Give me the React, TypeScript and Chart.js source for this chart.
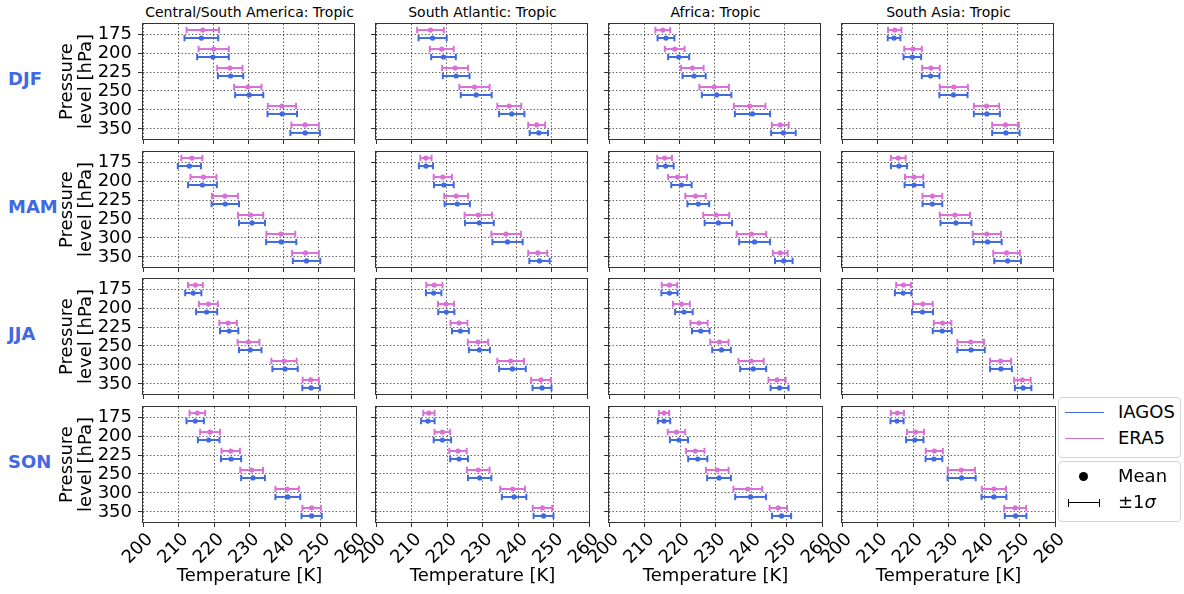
import React, { useEffect, useRef } from "react";
import { Chart, registerables } from "chart.js";
Chart.register(...registerables);

const FONT = "'DejaVu Sans', sans-serif";
const IAGOS_COLOR = "#4169E1";
const ERA5_COLOR = "#DA70D6";

const seasons = ["DJF", "MAM", "JJA", "SON"];
const regions = [
  "Central/South America: Tropic",
  "South Atlantic: Tropic",
  "Africa: Tropic",
  "South Asia: Tropic",
];
const pressureLevels = ["175", "200", "225", "250", "300", "350"];
const temperatureTicks = [200, 210, 220, 230, 240, 250, 260];

// [region][pressure level]
const era5MeanDJF = [
  [217.0, 220.1, 224.7, 229.8, 239.5, 246.1],
  [215.5, 218.7, 222.5, 228.0, 237.9, 245.7],
  [215.3, 218.7, 223.7, 229.9, 240.0, 248.7],
  [215.0, 220.2, 225.3, 231.8, 241.1, 246.5],
];
const era5SdDJF = [
  [4.6, 4.3, 3.6, 3.9, 4.0, 3.9],
  [3.8, 3.4, 3.7, 4.3, 3.4, 2.4],
  [2.1, 2.8, 3.2, 4.2, 4.5, 2.4],
  [1.9, 2.5, 2.5, 4.0, 3.6, 3.8],
];
const iagosMeanDJF = [
  [216.6, 219.9, 224.9, 230.2, 239.6, 246.1],
  [216.1, 219.2, 222.8, 228.5, 238.6, 246.3],
  [216.2, 219.8, 224.2, 230.6, 240.8, 249.6],
  [214.8, 220.0, 225.2, 231.7, 241.2, 246.6],
];
const iagosSdDJF = [
  [4.8, 4.5, 3.6, 4.0, 4.2, 4.2],
  [4.0, 3.5, 3.8, 4.4, 3.6, 2.6],
  [2.4, 3.0, 3.3, 4.2, 5.0, 3.5],
  [1.8, 2.5, 2.5, 4.0, 3.7, 3.9],
];

const era5MeanMAM = [
  [213.9, 217.2, 223.3, 230.6, 239.2, 246.2],
  [214.2, 219.0, 222.8, 229.1, 237.0, 246.0],
  [215.8, 219.5, 224.6, 230.5, 240.5, 248.7],
  [216.0, 220.5, 225.7, 232.1, 241.2, 246.8],
];
const era5SdMAM = [
  [3.0, 3.7, 3.7, 3.6, 4.1, 3.8],
  [1.6, 2.6, 3.4, 3.9, 4.2, 2.7],
  [2.1, 2.7, 2.9, 3.7, 4.2, 2.1],
  [2.1, 2.6, 2.8, 4.3, 4.0, 3.8],
];
const iagosMeanMAM = [
  [213.2, 216.9, 223.4, 231.0, 239.3, 246.5],
  [214.2, 219.3, 223.1, 229.4, 237.4, 246.5],
  [216.1, 220.6, 225.4, 231.1, 241.4, 249.7],
  [216.2, 220.5, 225.7, 232.4, 241.4, 247.1],
];
const iagosSdMAM = [
  [3.3, 4.1, 3.9, 3.7, 4.3, 3.9],
  [2.0, 2.8, 3.6, 4.1, 4.3, 2.9],
  [2.3, 2.9, 3.1, 3.9, 4.4, 2.5],
  [2.3, 2.7, 2.8, 4.4, 4.0, 3.8],
];

const era5MeanJJA = [
  [214.9, 218.6, 224.2, 230.0, 240.1, 247.7],
  [216.6, 219.9, 223.6, 229.0, 238.3, 246.9],
  [217.2, 220.6, 225.6, 231.4, 240.4, 247.8],
  [217.5, 223.0, 228.6, 236.6, 245.1, 251.3],
];
const era5SdJJA = [
  [2.1, 2.7, 2.5, 3.1, 3.6, 2.3],
  [2.3, 2.3, 2.4, 2.9, 3.8, 2.8],
  [2.2, 2.4, 2.45, 2.6, 3.6, 2.45],
  [2.1, 2.8, 2.5, 3.8, 3.0, 2.35],
];
const iagosMeanJJA = [
  [214.3, 218.1, 224.5, 230.5, 240.4, 247.8],
  [216.4, 220.0, 224.0, 229.4, 238.8, 247.2],
  [217.2, 221.3, 226.1, 232.0, 241.0, 248.5],
  [217.4, 222.9, 228.5, 236.7, 245.2, 251.5],
];
const iagosSdJJA = [
  [2.3, 3.0, 2.6, 3.2, 3.6, 2.5],
  [2.2, 2.3, 2.4, 3.0, 3.8, 2.7],
  [2.3, 2.5, 2.5, 2.65, 3.7, 2.55],
  [2.35, 3.0, 2.7, 3.9, 3.1, 2.35],
];

const era5MeanSON = [
  [215.3, 218.9, 224.7, 230.6, 240.6, 247.5],
  [214.9, 218.7, 223.1, 228.8, 238.5, 246.9],
  [215.5, 219.0, 224.3, 230.5, 239.1, 247.7],
  [215.6, 220.7, 226.0, 233.6, 242.8, 248.8],
];
const era5SdSON = [
  [2.2, 2.8, 2.6, 3.2, 3.3, 2.6],
  [1.6, 2.2, 2.45, 3.2, 3.5, 2.75],
  [1.45, 2.45, 2.6, 3.2, 4.05, 2.45],
  [1.85, 2.4, 2.4, 3.85, 3.4, 3.1],
];
const iagosMeanSON = [
  [214.7, 218.5, 224.8, 231.0, 240.8, 247.5],
  [214.6, 218.7, 223.4, 229.2, 238.9, 247.2],
  [215.5, 219.7, 225.0, 231.0, 239.9, 248.6],
  [215.5, 220.5, 225.9, 233.7, 242.8, 248.9],
];
const iagosSdSON = [
  [2.45, 3.05, 2.85, 3.35, 3.5, 2.85],
  [1.9, 2.45, 2.5, 3.3, 3.45, 2.8],
  [1.75, 2.55, 2.7, 3.35, 4.35, 2.7],
  [1.85, 2.45, 2.35, 3.95, 3.5, 3.05],
];

const era5Mean = [era5MeanDJF, era5MeanMAM, era5MeanJJA, era5MeanSON];
const era5Sd = [era5SdDJF, era5SdMAM, era5SdJJA, era5SdSON];
const iagosMean = [iagosMeanDJF, iagosMeanMAM, iagosMeanJJA, iagosMeanSON];
const iagosSd = [iagosSdDJF, iagosSdMAM, iagosSdJJA, iagosSdSON];

// layout
const COL_LEFT = [143, 376, 609, 842];
const ROW_TOP = [22, 150, 277, 405];
const PANEL_W = 213;
const PANEL_H = 117;
const PAGE_H = 594;

const framePlugin = {
  id: "frame",
  afterDatasetsDraw(chart: any) {
    const { ctx, chartArea } = chart;
    ctx.save();
    ctx.strokeStyle = "#333";
    ctx.lineWidth = 1;
    ctx.strokeRect(
      Math.round(chartArea.left) - 0.5,
      Math.round(chartArea.top) - 0.5,
      Math.round(chartArea.right - chartArea.left) + 1,
      Math.round(chartArea.bottom - chartArea.top) + 1
    );
    ctx.restore();
  },
};

const zeroPadding = (sc: any) => {
  sc.paddingLeft = 0;
  sc.paddingRight = 0;
  sc.paddingTop = 0;
  sc.paddingBottom = 0;
};

function Panel({ s, r }: { s: number; r: number }) {
  const ref = useRef<HTMLCanvasElement>(null);
  const isBottom = s === seasons.length - 1;
  const leftM = r === 0 ? COL_LEFT[0] : isBottom ? 34 : 12;
  const bottomM = isBottom ? PAGE_H - (ROW_TOP[3] + PANEL_H) : 8;
  const topM = 4;
  const rightM = isBottom ? 14 : 4;
  const w = leftM + PANEL_W + rightM;
  const h = topM + PANEL_H + bottomM;

  useEffect(() => {
    const series = [
      { mean: era5Mean[s][r], sd: era5Sd[s][r], color: ERA5_COLOR, off: -0.21 },
      { mean: iagosMean[s][r], sd: iagosSd[s][r], color: IAGOS_COLOR, off: 0.21 },
    ];
    const datasets: any[] = [];
    series.forEach((se) => {
      se.mean.forEach((m, i) => {
        datasets.push({
          data: [
            { x: m - se.sd[i], y: i + se.off },
            { x: m + se.sd[i], y: i + se.off },
          ],
          showLine: true,
          borderColor: se.color,
          borderWidth: 2,
          pointStyle: "line",
          rotation: 90,
          pointRadius: 3.2,
          pointBorderWidth: 2,
          pointBorderColor: se.color,
          pointBackgroundColor: se.color,
        });
      });
      datasets.push({
        data: se.mean.map((m, i) => ({ x: m, y: i + se.off })),
        showLine: false,
        pointStyle: "circle",
        pointRadius: 2.6,
        pointBorderWidth: 0,
        pointBackgroundColor: se.color,
        backgroundColor: se.color,
        borderColor: se.color,
      });
    });

    const gridColor = "rgba(0,0,0,0.6)";
    const chart = new Chart(ref.current as HTMLCanvasElement, {
      type: "scatter",
      data: { datasets },
      plugins: [framePlugin],
      options: {
        animation: false,
        responsive: false,
        maintainAspectRatio: false,
        devicePixelRatio: 1,
        events: [],
        layout: { padding: { top: topM, right: rightM, left: 0, bottom: 0 } },
        plugins: {
          legend: { display: false },
          tooltip: { enabled: false },
          title: { display: false },
        },
        scales: {
          x: {
            type: "linear",
            min: 200,
            max: 260,
            afterBuildTicks: (sc: any) => {
              sc.ticks = temperatureTicks.map((v) => ({ value: v }));
            },
            afterFit: (sc: any) => {
              sc.height = bottomM;
              zeroPadding(sc);
            },
            border: { display: false, dash: [1.5, 2] },
            grid: {
              color: gridColor,
              lineWidth: 1,
              drawTicks: true,
              tickLength: 5,
              tickColor: "#333",
              tickWidth: 1,
            },
            ticks: {
              display: isBottom,
              autoSkip: false,
              maxRotation: 45,
              minRotation: 45,
              padding: 2,
              labelOffset: 7,
              color: "#000",
              font: { family: FONT, size: 18 },
              callback: (v: any) => String(v),
            },
            title: {
              display: isBottom,
              text: "Temperature [K]",
              color: "#000",
              font: { family: FONT, size: 18, lineHeight: 1.15 },
              padding: { top: 0, bottom: 7 },
            },
          },
          y: {
            type: "linear",
            reverse: true,
            min: -0.53,
            max: 5.53,
            afterBuildTicks: (sc: any) => {
              sc.ticks = pressureLevels.map((_, i) => ({ value: i }));
            },
            afterFit: (sc: any) => {
              sc.width = leftM;
              zeroPadding(sc);
            },
            border: { display: false, dash: [1.5, 2] },
            grid: {
              color: gridColor,
              lineWidth: 1,
              drawTicks: true,
              tickLength: 5,
              tickColor: "#333",
              tickWidth: 1,
            },
            ticks: {
              display: r === 0,
              autoSkip: false,
              padding: 6,
              color: "#000",
              font: { family: FONT, size: 18 },
              callback: (_v: any, idx: number) => pressureLevels[idx],
            },
            title: {
              display: r === 0,
              text: ["Pressure", "level [hPa]"],
              color: "#000",
              font: { family: FONT, size: 18, lineHeight: 1.1 },
              padding: { top: 57, bottom: 0 },
            },
          },
        },
      } as any,
    });
    return () => chart.destroy();
  }, [s, r]);

  return (
    <canvas
      ref={ref}
      width={w}
      height={h}
      style={{
        position: "absolute",
        left: COL_LEFT[r] - leftM,
        top: ROW_TOP[s] - topM,
        width: w,
        height: h,
      }}
    />
  );
}

function Legend() {
  const box: React.CSSProperties = {
    position: "absolute",
    left: 1058,
    width: 121,
    height: 59,
    border: "1px solid #d3d3d3",
    borderRadius: 4,
    background: "#fff",
    fontFamily: FONT,
    fontSize: 18,
    color: "#000",
  };
  const text = (top: number, content: React.ReactNode) => (
    <div style={{ position: "absolute", left: 59, top, lineHeight: "20px", whiteSpace: "nowrap" }}>{content}</div>
  );
  return (
    <>
      <div style={{ ...box, top: 397 }}>
        <div style={{ position: "absolute", left: 6, top: 14, width: 39, borderTop: `1.5px solid ${IAGOS_COLOR}` }} />
        {text(4, "IAGOS")}
        <div style={{ position: "absolute", left: 6, top: 40, width: 39, borderTop: `1.5px solid ${ERA5_COLOR}` }} />
        {text(30, "ERA5")}
      </div>
      <div style={{ ...box, top: 461 }}>
        <div
          style={{
            position: "absolute",
            left: 20,
            top: 10,
            width: 9,
            height: 9,
            borderRadius: "50%",
            background: "#000",
          }}
        />
        {text(4, "Mean")}
        <div style={{ position: "absolute", left: 9, top: 40, width: 32, borderTop: "1.5px solid #000" }} />
        <div style={{ position: "absolute", left: 9, top: 37, height: 8, borderLeft: "1.5px solid #000" }} />
        <div style={{ position: "absolute", left: 40, top: 37, height: 8, borderLeft: "1.5px solid #000" }} />
        {text(30, (
          <span>
            ±1<span style={{ fontStyle: "italic" }}>σ</span>
          </span>
        ))}
      </div>
    </>
  );
}

export default function App() {
  return (
    <div
      style={{
        position: "absolute",
        left: 0,
        top: 0,
        width: 1184,
        height: PAGE_H,
        background: "#fff",
        overflow: "hidden",
        fontFamily: FONT,
      }}
    >
      {regions.map((name, r) => (
        <div
          key={"t" + r}
          style={{
            position: "absolute",
            left: COL_LEFT[r],
            top: 3,
            width: PANEL_W,
            textAlign: "center",
            fontSize: 14,
            lineHeight: "18px",
            whiteSpace: "nowrap",
            color: "#000",
          }}
        >
          {name}
        </div>
      ))}
      {seasons.map((name, s) => (
        <div
          key={"s" + s}
          style={{
            position: "absolute",
            left: 8,
            top: ROW_TOP[s] + PANEL_H / 2 - 1.5 - 12,
            height: 24,
            lineHeight: "24px",
            textAlign: "left",
            whiteSpace: "nowrap",
            fontSize: 18,
            fontWeight: "bold",
            color: IAGOS_COLOR,
          }}
        >
          {name}
        </div>
      ))}
      {seasons.map((_, s) => regions.map((__, r) => <Panel key={s + "-" + r} s={s} r={r} />))}
      <Legend />
    </div>
  );
}
